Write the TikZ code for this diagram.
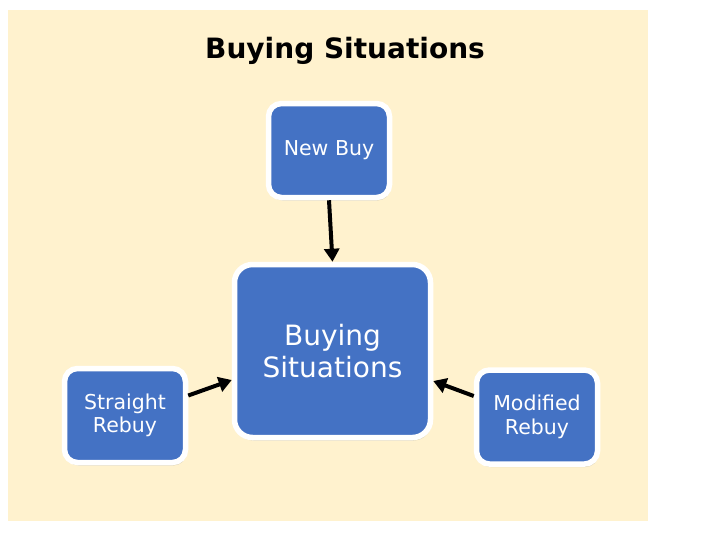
\documentclass[tikz,border=0pt]{standalone}
\usepackage{fontspec}
\setmainfont{DejaVu Sans}
\usepackage{tikz}
\usetikzlibrary{arrows.meta,shadows}
\usepackage{xcolor}
\definecolor{SitBlue}{RGB}{68,114,196}
\definecolor{SitCream}{RGB}{255,242,206}

\begin{document}
\begin{tikzpicture}[
    x=1pt, y=-1pt,
    situation/.style={rectangle, rounded corners=13pt, draw=white, line width=5.5pt, fill=SitBlue,
      text=white, align=center,
      minimum width=121pt, minimum height=94pt, inner sep=0pt,
      font=\fontsize{20.5}{23.5}\selectfont,
      drop shadow={shadow xshift=1pt, shadow yshift=-3pt, opacity=0.3}},
    arrow/.style={-{Triangle[length=13pt,width=15pt]}, line width=4pt, color=black}
]
\useasboundingbox (0,0) rectangle (708,558);
\fill[SitCream] (8,10) rectangle (648,521);
\node[font=\bfseries\fontsize{28}{32}\selectfont, anchor=base] (title) at (345,58) {Buying Situations};
\node[situation, minimum width=196pt, minimum height=173pt, rounded corners=18pt,
      font=\fontsize{28}{32}\selectfont] (center) at (332.5,351) {Buying\\Situations};
\node[situation] (newbuy) at (329,150.5) {New Buy};
\node[situation] (straight) at (125,415.5) {Straight\\Rebuy};
\node[situation] (modified) at (537,417) {Modified\\Rebuy};
\draw[arrow] (newbuy.south) -- (center.north);
\draw[arrow] ([yshift=20pt]straight.east) -- ([yshift=-29pt]center.west);
\draw[arrow] ([yshift=21pt]modified.west) -- ([yshift=-30pt]center.east);
\end{tikzpicture}
\end{document}
